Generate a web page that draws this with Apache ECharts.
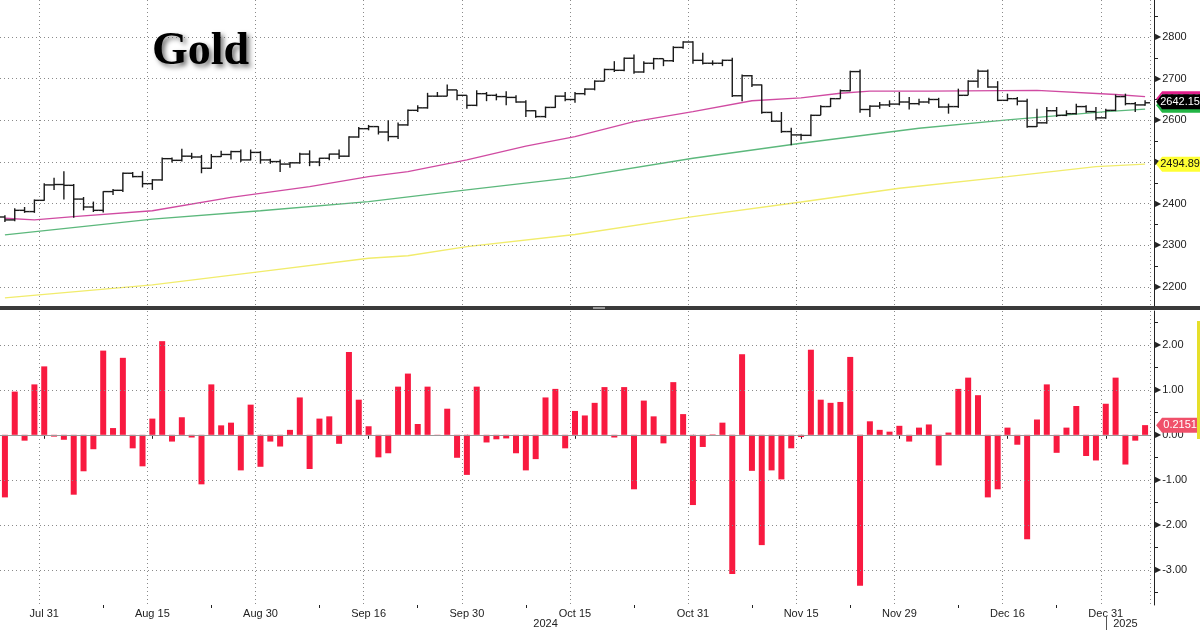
<!DOCTYPE html>
<html>
<head>
<meta charset="utf-8">
<script src="https://cdn.jsdelivr.net/npm/echarts@6/dist/echarts.min.js"></script>
<style>
html,body{margin:0;padding:0;background:#fff;}
#chart{width:1200px;height:630px;}
</style>
</head>
<body>
<div id="chart"></div>
<script>
// trading days, Jul 25 2024 .. Jan 7 2025
var dates = ['Jul 25','Jul 26','Jul 29','Jul 30','Jul 31',
    'Aug 1','Aug 2','Aug 5','Aug 6','Aug 7','Aug 8','Aug 9','Aug 12','Aug 13','Aug 14','Aug 15','Aug 16','Aug 19','Aug 20','Aug 21','Aug 22','Aug 23','Aug 26','Aug 27','Aug 28','Aug 29','Aug 30',
    'Sep 2','Sep 3','Sep 4','Sep 5','Sep 6','Sep 9','Sep 10','Sep 11','Sep 12','Sep 13','Sep 16','Sep 17','Sep 18','Sep 19','Sep 20','Sep 23','Sep 24','Sep 25','Sep 26','Sep 27','Sep 30',
    'Oct 1','Oct 2','Oct 3','Oct 4','Oct 7','Oct 8','Oct 9','Oct 10','Oct 11','Oct 14','Oct 15','Oct 16','Oct 17','Oct 18','Oct 21','Oct 22','Oct 23','Oct 24','Oct 25','Oct 28','Oct 29','Oct 30','Oct 31',
    'Nov 1','Nov 4','Nov 5','Nov 6','Nov 7','Nov 8','Nov 11','Nov 12','Nov 13','Nov 14','Nov 15','Nov 18','Nov 19','Nov 20','Nov 21','Nov 22','Nov 25','Nov 26','Nov 27','Nov 28','Nov 29',
    'Dec 2','Dec 3','Dec 4','Dec 5','Dec 6','Dec 9','Dec 10','Dec 11','Dec 12','Dec 13','Dec 16','Dec 17','Dec 18','Dec 19','Dec 20','Dec 23','Dec 24','Dec 26','Dec 27','Dec 30','Dec 31',
    'Jan 2','Jan 3','Jan 6','Jan 7'];

var opens = [2368,2361,2384,2381,2408,2445,2446,2444,2411,2392,
    2384,2429,2432,2473,2465,2448,2457,2508,2504,2514,
    2512,2485,2513,2518,2525,2505,2523,2505,2501,2495,
    2498,2519,2500,2509,2519,2514,2560,2580,2585,2572,
    2561,2589,2624,2630,2658,2658,2673,2660,2636,2664,
    2660,2657,2655,2644,2623,2609,2631,2658,2650,2664,
    2675,2694,2722,2720,2749,2716,2737,2748,2743,2775,
    2788,2744,2737,2737,2744,2659,2707,2685,2619,2598,
    2573,2565,2564,2612,2633,2652,2671,2717,2626,2634,
    2637,2639,2644,2640,2644,2650,2632,2633,2660,2694,
    2718,2680,2648,2652,2646,2585,2594,2623,2612,2616,
    2633,2621,2606,2624,2657,2640,2637];
var closes = [2361,2384,2381,2408,2445,2446,2444,2411,2392,2384,
    2429,2432,2473,2465,2448,2457,2508,2504,2514,2512,
    2485,2513,2518,2525,2505,2523,2505,2501,2495,2498,
    2519,2500,2509,2519,2514,2560,2580,2585,2572,2561,
    2589,2624,2630,2658,2658,2673,2660,2636,2664,2660,
    2657,2655,2644,2623,2609,2631,2658,2650,2664,2675,
    2694,2722,2720,2749,2716,2737,2748,2743,2775,2788,
    2744,2737,2737,2744,2659,2707,2685,2619,2598,2573,
    2565,2564,2612,2633,2652,2671,2717,2626,2634,2637,
    2639,2644,2640,2644,2650,2632,2633,2660,2694,2718,
    2680,2648,2652,2646,2585,2594,2623,2612,2616,2633,
    2621,2606,2624,2657,2640,2637,2642.15];
var highs = [2372,2389,2392,2410,2449,2462,2478,2447,2416,2405,
    2430,2435,2475,2476,2478,2459,2511,2511,2532,2522,
    2517,2519,2527,2527,2530,2530,2526,2508,2506,2500,
    2522,2528,2510,2520,2530,2562,2584,2589,2586,2600,
    2595,2626,2636,2666,2668,2686,2673,2660,2672,2668,
    2664,2670,2660,2648,2624,2633,2660,2668,2668,2677,
    2696,2724,2742,2751,2758,2742,2750,2748,2778,2790,
    2790,2762,2744,2746,2750,2710,2709,2686,2621,2620,
    2582,2568,2614,2636,2654,2674,2719,2722,2636,2644,
    2648,2668,2656,2652,2654,2654,2640,2676,2696,2722,
    2722,2694,2664,2656,2652,2628,2632,2632,2624,2640,
    2636,2632,2628,2662,2664,2644,2648];
var lows = [2356,2358,2378,2378,2407,2433,2410,2366,2384,2380,
    2379,2421,2428,2463,2439,2433,2455,2499,2501,2507,
    2473,2484,2512,2506,2500,2504,2496,2496,2476,2486,
    2496,2490,2490,2504,2507,2512,2558,2576,2566,2550,
    2555,2587,2620,2628,2656,2658,2648,2628,2634,2646,
    2648,2636,2642,2608,2606,2606,2630,2646,2642,2660,
    2672,2694,2716,2718,2712,2714,2722,2730,2740,2772,
    2736,2734,2732,2730,2656,2646,2680,2616,2596,2570,
    2540,2552,2562,2612,2632,2652,2670,2618,2608,2628,
    2632,2636,2626,2636,2640,2630,2616,2630,2660,2678,
    2678,2646,2646,2636,2582,2584,2592,2608,2610,2614,
    2618,2600,2604,2622,2636,2620,2635];

// daily % change
var pctChange = [-1.39,0.96,-0.13,1.12,1.52,-0.04,-0.11,-1.33,-0.81,-0.32,
    1.87,0.15,1.71,-0.30,-0.70,0.36,2.08,-0.15,0.39,-0.06,
    -1.10,1.12,0.21,0.27,-0.79,0.67,-0.71,-0.15,-0.26,0.11,
    0.83,-0.76,0.36,0.41,-0.20,1.84,0.78,0.19,-0.50,-0.41,
    1.07,1.36,0.24,1.07,-0.02,0.58,-0.51,-0.89,1.07,-0.17,
    -0.10,-0.08,-0.41,-0.79,-0.54,0.83,1.02,-0.30,0.53,0.43,
    0.71,1.06,-0.06,1.06,-1.21,0.76,0.41,-0.19,1.17,0.46,
    -1.56,-0.27,0.01,0.27,-3.09,1.79,-0.80,-2.45,-0.79,-0.99,
    -0.30,-0.05,1.89,0.78,0.71,0.73,1.73,-3.35,0.30,0.11,
    0.07,0.20,-0.15,0.16,0.23,-0.68,0.05,1.02,1.27,0.88,
    -1.39,-1.21,0.16,-0.22,-2.32,0.34,1.12,-0.40,0.16,0.64,
    -0.47,-0.57,0.69,1.27,-0.66,-0.13,0.2151];

// moving averages, read at a few days
var ma50Days = ['Jul 25','Jul 30','Aug 5','Aug 15','Aug 27','Sep 6','Sep 16','Sep 20','Sep 30','Oct 8','Oct 15','Oct 23','Oct 31','Nov 8','Nov 15','Nov 21','Nov 26','Dec 4','Dec 19','Jan 2','Jan 7'];
var ma50Vals = [2365,2361,2369,2383,2415,2441,2465,2477,2505,2538,2561,2597,2621,2647,2654,2665,2670,2670,2672,2662,2656.8];
var ma100Days = ['Jul 25','Aug 15','Aug 30','Sep 16','Sep 30','Oct 15','Oct 31','Nov 15','Dec 3','Dec 16','Dec 31','Jan 7'];
var ma100Vals = [2325,2363,2383,2405,2433,2463,2509,2545,2581,2601,2621,2626.71];
var ma200Days = ['Jul 25','Aug 15','Aug 30','Sep 16','Sep 20','Sep 30','Oct 15','Oct 31','Nov 15','Nov 29','Dec 16','Dec 30','Jan 7'];
var ma200Vals = [2174,2205,2237,2269,2275,2297,2326,2369,2404,2437,2465,2489,2494.89];

// axis labels / ticks
var labelDays = ['Jul 31','Aug 15','Aug 30','Sep 16','Sep 30','Oct 15','Oct 31','Nov 15','Nov 29','Dec 16','Dec 31'];
var minorDays = ['Aug 8','Aug 23','Sep 9','Sep 23','Oct 8','Oct 23','Nov 8','Nov 22','Dec 9','Dec 23'];
var yearLabelDays = ['Oct 10','Jan 3'];
var yearLabels = ['2024','2025'];
var yearBreakDay = 'Dec 31';
var priceTicks = [2200,2300,2400,2500,2600,2700,2800];
var priceMinorTicks = [2250,2350,2450,2550,2650,2750,2850];
var pctTicks = [-3,-2,-1,0,1,2];
var pctMinorTicks = [-3.5,-2.5,-1.5,-0.5,0.5,1.5,2.5];

var ohlcData = dates.map(function (d, i) {
    return [i, opens[i], closes[i], lows[i], highs[i]];
});
function pairs(days, vals) {
    return days.map(function (d, i) { return [d, vals[i]]; });
}

var chart = echarts.init(document.getElementById('chart'));
var dotted = { color: '#8a8a8a', width: 1, type: [1, 3] };
var labelFont = { fontFamily: 'Liberation Sans, Arial, sans-serif', fontSize: 11, color: '#222' };
var tagPath = 'path://M0,7L6,0L44,0L44,14L6,14Z';
var last = dates.length - 1;

function showAt(list) {
    return function (idx, val) { return list.indexOf(val) >= 0; };
}
// right-hand value labels with the little arrow marker in front
function arrowLabel(fmt) {
    return {
        margin: 1,
        formatter: function (v) { return '{t|\u25B6}{v|' + fmt(v) + '}'; },
        rich: {
            t: { fontFamily: 'DejaVu Sans', fontSize: 8, color: '#222', padding: [0, 1, 0, 0] },
            v: { fontFamily: 'Liberation Sans, Arial, sans-serif', fontSize: 11, color: '#222' }
        }
    };
}
// price tag on the right axis (markPoint, z orders the overlapping tags)
function tagMark(value, color, textColor, digits, dy, z) {
    return {
        z: z,
        data: [{
            coord: [dates[last], value],
            symbol: tagPath, symbolSize: [44, 15], symbolOffset: [33, dy],
            itemStyle: { color: color },
            label: { show: true, position: 'inside', offset: [2, 0], fontFamily: 'Liberation Sans, Arial',
                     fontSize: 11, color: textColor, formatter: function () { return value.toFixed(digits); } }
        }]
    };
}

var option = {
    backgroundColor: '#fff',
    animation: false,
    title: {
        text: 'Gold', left: 147, top: 24,
        textStyle: {
            fontFamily: 'Liberation Serif, Times New Roman, serif',
            fontWeight: 'bold', fontSize: 46, color: '#000',
            textShadowColor: 'rgba(0,0,0,0.55)', textShadowBlur: 5,
            textShadowOffsetX: 3, textShadowOffsetY: 3
        }
    },
    grid: [
        { left: -7, right: 50, top: 0, height: 306 },
        { left: -7, right: 50, top: 311, height: 294 }
    ],
    xAxis: [
        { type: 'category', gridIndex: 0, data: dates, boundaryGap: true,
          axisLine: { show: false }, axisTick: { show: false }, axisLabel: { show: false },
          splitLine: { show: true, interval: showAt(labelDays), lineStyle: dotted } },
        { type: 'category', gridIndex: 1, data: dates, boundaryGap: true, position: 'bottom',
          axisLine: { show: true, lineStyle: { color: '#222', width: 1 } },
          axisTick: { show: true, alignWithLabel: true, interval: showAt(labelDays), length: 4, lineStyle: { color: '#222' } },
          axisLabel: Object.assign({ interval: showAt(labelDays), margin: 3 }, labelFont),
          splitLine: { show: true, interval: showAt(labelDays), lineStyle: dotted } },
        { type: 'category', gridIndex: 1, data: dates, boundaryGap: true, position: 'bottom',
          axisLine: { show: false },
          axisTick: { show: true, alignWithLabel: true, interval: showAt(minorDays), length: 3, lineStyle: { color: '#222' } },
          axisLabel: { show: false }, splitLine: { show: false } },
        { type: 'category', gridIndex: 1, data: dates, boundaryGap: true, position: 'bottom', offset: 12,
          axisLine: { show: false },
          axisTick: { show: true, alignWithLabel: true, interval: showAt([yearBreakDay]), length: 16, lineStyle: { color: '#555' } },
          axisLabel: Object.assign({
              interval: showAt(yearLabelDays), margin: 1,
              formatter: function (v) { return yearLabels[yearLabelDays.indexOf(v)]; }
          }, labelFont),
          splitLine: { show: false } }
    ],
    yAxis: [
        { type: 'value', gridIndex: 0, position: 'right', offset: 4, min: 2154.4, max: 2888.8,
          axisLine: { show: true, lineStyle: { color: '#222', width: 1 } },
          axisTick: { show: true, length: 4, customValues: priceMinorTicks, lineStyle: { color: '#222' } },
          axisLabel: Object.assign(arrowLabel(function (v) { return String(v); }), { customValues: priceTicks }),
          splitLine: { show: false } },
        { type: 'value', gridIndex: 1, position: 'right', offset: 4, min: -3.78, max: 2.75,
          axisLine: { show: true, lineStyle: { color: '#222', width: 1 } },
          axisTick: { show: true, length: 4, customValues: pctMinorTicks, lineStyle: { color: '#222' } },
          axisLabel: Object.assign(arrowLabel(function (v) { return v.toFixed(2); }), { customValues: pctTicks }),
          splitLine: { show: false } }
    ],
    graphic: [
        { type: 'rect', shape: { x: 0, y: 306, width: 1200, height: 4 }, style: { fill: '#3a3a3a' }, z: 100 },
        { type: 'rect', shape: { x: 593, y: 307, width: 12, height: 2 }, style: { fill: '#9a9a9a' }, z: 101 },
        { type: 'rect', shape: { x: 1197, y: 321, width: 3, height: 118 }, style: { fill: '#e6df2a' }, z: 100 }
    ],
    series: [
        { name: 'MA200', type: 'line', xAxisIndex: 0, yAxisIndex: 0, data: pairs(ma200Days, ma200Vals),
          symbol: 'none', connectNulls: true, clip: false, z: 2,
          lineStyle: { color: '#f1ec6c', width: 1.3 },
          markLine: { silent: true, symbol: 'none', label: { show: false },
              lineStyle: dotted,
              data: priceTicks.map(function (v) { return { yAxis: v }; }) },
          markPoint: tagMark(ma200Vals[ma200Vals.length - 1], '#ffff33', '#111', 2, 0, 5) },
        { name: 'MA100', type: 'line', xAxisIndex: 0, yAxisIndex: 0, data: pairs(ma100Days, ma100Vals),
          symbol: 'none', connectNulls: true, clip: false, z: 3,
          lineStyle: { color: '#5cb87c', width: 1.3 },
          markPoint: tagMark(ma100Vals[ma100Vals.length - 1], '#22b545', '#fff', 2, -4, 6) },
        { name: 'MA50', type: 'line', xAxisIndex: 0, yAxisIndex: 0, data: pairs(ma50Days, ma50Vals),
          symbol: 'none', connectNulls: true, clip: false, z: 3,
          lineStyle: { color: '#d04ba2', width: 1.3 },
          markPoint: tagMark(ma50Vals[ma50Vals.length - 1], '#e0208c', '#fff', 2, 2, 7) },
        { name: 'Gold', type: 'custom', xAxisIndex: 0, yAxisIndex: 0, z: 5,
          data: ohlcData,
          encode: { x: 0, y: [1, 2, 3, 4] },
          renderItem: function (params, api) {
              var x = api.value(0);
              var o = api.coord([x, api.value(1)]);
              var c = api.coord([x, api.value(2)]);
              var l = api.coord([x, api.value(3)]);
              var h = api.coord([x, api.value(4)]);
              var w = 5;
              var st = { stroke: '#1a1a1a', lineWidth: 1.4 };
              return { type: 'group', children: [
                  { type: 'line', shape: { x1: h[0], y1: h[1], x2: l[0], y2: l[1] }, style: st },
                  { type: 'line', shape: { x1: o[0] - w, y1: o[1], x2: o[0], y2: o[1] }, style: st },
                  { type: 'line', shape: { x1: c[0], y1: c[1], x2: c[0] + w, y2: c[1] }, style: st }
              ] };
          } },
        // carries the last-price tag above the moving-average tags
        { name: 'Last', type: 'line', xAxisIndex: 0, yAxisIndex: 0, z: 10, clip: false,
          data: [[dates[last], closes[last]]], symbol: 'none', lineStyle: { opacity: 0 },
          markPoint: tagMark(closes[last], '#000', '#fff', 2, -1, 9) },
        { name: 'Change', type: 'bar', xAxisIndex: 1, yAxisIndex: 1, data: pctChange,
          barWidth: 6, clip: false, z: 3,
          itemStyle: { color: '#f81a40' },
          markLine: { silent: true, symbol: 'none', label: { show: false },
              data: pctTicks.map(function (v) {
                  return v === 0 ? { yAxis: v, lineStyle: { color: '#9a9a9a', width: 1, type: 'solid' } }
                                 : { yAxis: v, lineStyle: dotted };
              }) },
          markPoint: tagMark(pctChange[last], '#f0506a', '#fff', 4, 0, 5) }
    ]
};
chart.setOption(option);
</script>
</body>
</html>
